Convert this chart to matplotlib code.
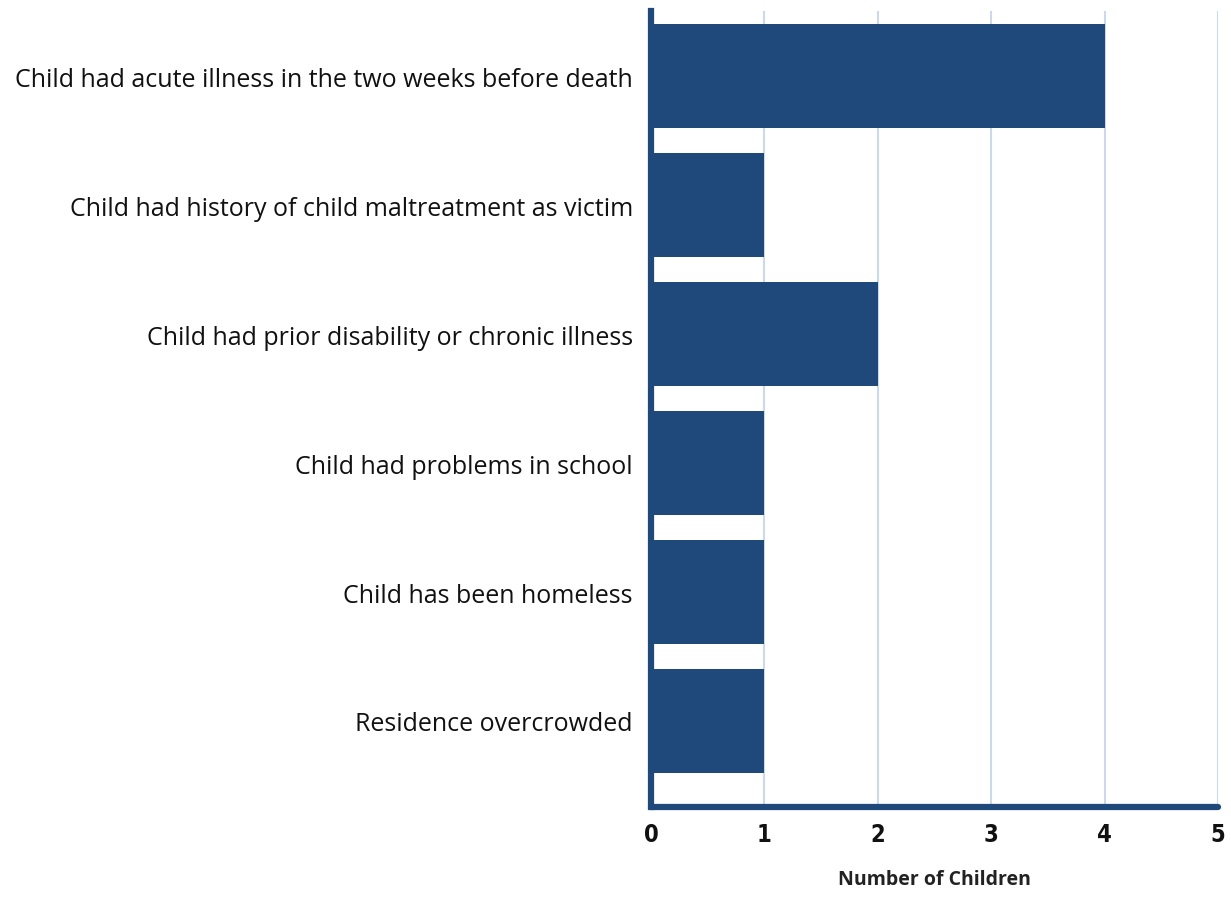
import numpy as np
import matplotlib
matplotlib.use('Agg')
import matplotlib.pyplot as plt

categories = [
    "Child had acute illness in the two weeks before death",
    "Child had history of child maltreatment as victim",
    "Child had prior disability or chronic illness",
    "Child had problems in school",
    "Child has been homeless",
    "Residence overcrowded",
]
counts = [4, 1, 2, 1, 1, 1]
x_ticks = [0, 1, 2, 3, 4, 5]

BAR = '#1f497b'
GRID = '#cdd9e8'

fig = plt.figure(figsize=(12.31, 9.12), dpi=100)
ax = fig.add_axes([0.5288, 0.114, 0.4606, 0.8728])

y = np.arange(len(categories))
ax.barh(y, counts, height=0.8, color=BAR, zorder=2)

ax.set_xlim(0, 5)
ax.set_ylim(5.667, -0.504)
ax.set_xticks(x_ticks)
ax.set_yticks(y)
ax.set_yticklabels(categories, fontsize=18, family=['Open Sans', 'DejaVu Sans'], color='#111111')
ax.set_xticklabels([str(v) for v in x_ticks], fontsize=17, fontweight='bold',
                   family=['DejaVu Sans'], fontstretch='condensed', color='#111111')
ax.tick_params(axis='y', length=0, pad=13)
ax.tick_params(axis='x', length=0, pad=11)

ax.grid(axis='x', color=GRID, linewidth=1.5, zorder=0)
for s in ['top', 'right']:
    ax.spines[s].set_visible(False)
for s in ['left', 'bottom']:
    ax.spines[s].set_color(BAR)
    ax.spines[s].set_linewidth(4.5)
    ax.spines[s].set_zorder(3)
ax.spines['bottom'].set_capstyle('round')

ax.set_xlabel("Number of Children", fontsize=14, fontweight='bold',
              family=['Open Sans', 'DejaVu Sans'], color='#222222', labelpad=16)

fig.savefig("out.png", dpi=100)
